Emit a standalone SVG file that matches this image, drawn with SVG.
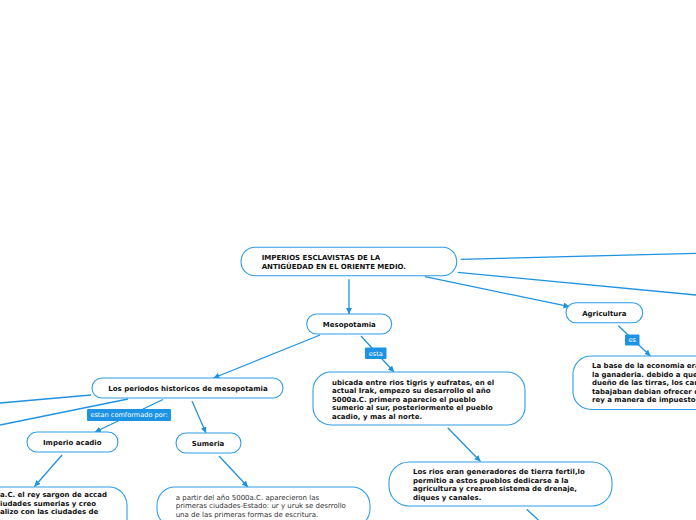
<svg xmlns="http://www.w3.org/2000/svg" width="696" height="520" viewBox="0 0 696 520">
<style>
.node{fill:#ffffff;stroke:#2f9de6;stroke-width:1.1}
.edge{stroke:#1f93e0;stroke-width:1.3;fill:none}
.t{font-family:"DejaVu Sans",Verdana,sans-serif;font-size:7px;font-weight:bold;fill:#111111}
.tc{text-anchor:middle}
.tn{font-family:"DejaVu Sans",Verdana,sans-serif;font-size:7px;fill:#333333}
.lb{fill:#1d93e3}
.lt{font-family:"DejaVu Sans",Verdana,sans-serif;font-size:6.6px;fill:#ffffff;text-anchor:middle}
</style>
<defs>
<marker id="ah" viewBox="0 0 10 10" refX="10" refY="5" markerWidth="6" markerHeight="6" markerUnits="userSpaceOnUse" orient="auto">
<path d="M0,0 L10,5 L0,10 z" fill="#1f93e0"/>
</marker>
</defs>
<rect width="696" height="520" fill="#ffffff"/>
<g id="connectors">
<line class="edge" x1="460.7" y1="259.3" x2="696" y2="253.3"/>
<line class="edge" x1="457.7" y1="272.3" x2="696" y2="295"/>
<line class="edge" x1="425" y1="276.7" x2="569.5" y2="306.7" marker-end="url(#ah)"/>
<line class="edge" x1="349" y1="279.3" x2="349" y2="314" marker-end="url(#ah)"/>
<line class="edge" x1="320" y1="335" x2="213.5" y2="378" marker-end="url(#ah)"/>
<line class="edge" x1="361" y1="336" x2="394" y2="372" marker-end="url(#ah)"/>
<line class="edge" x1="618.3" y1="325.7" x2="650.5" y2="356" marker-end="url(#ah)"/>
<line class="edge" x1="447.7" y1="427.7" x2="480.5" y2="461.5" marker-end="url(#ah)"/>
<line class="edge" x1="526.7" y1="509.3" x2="538.3" y2="520"/>
<line class="edge" x1="91" y1="395" x2="0" y2="403"/>
<line class="edge" x1="128" y1="399" x2="0" y2="425"/>
<line class="edge" x1="163" y1="399.5" x2="95" y2="432" marker-end="url(#ah)"/>
<line class="edge" x1="192" y1="401" x2="206" y2="433" marker-end="url(#ah)"/>
<line class="edge" x1="62" y1="455" x2="34.5" y2="486.5" marker-end="url(#ah)"/>
<line class="edge" x1="219" y1="456" x2="248" y2="487" marker-end="url(#ah)"/>
<rect class="lb" x="365" y="347.5" width="21.5" height="11.5" rx="1"/>
<text class="lt" x="375.8" y="355.6">esta</text>
<rect class="lb" x="625" y="334.5" width="14.5" height="11" rx="1"/>
<text class="lt" x="632.2" y="342.3">es</text>
<rect class="lb" x="87" y="409" width="84" height="12" rx="1"/>
<text class="lt" x="129" y="417.4">estan comformado por:</text>
</g>
<g id="root">
<rect class="node" x="241" y="247.3" width="215.7" height="28.4" rx="14"/>
<text class="t" x="261.7" y="259.8">IMPERIOS ESCLAVISTAS DE LA</text>
<text class="t" x="261.7" y="269.2">ANTIGÜEDAD EN EL ORIENTE MEDIO.</text>
</g>
<g id="mesopotamia">
<rect class="node" x="306.7" y="314" width="85" height="20" rx="10"/>
<text class="t tc" x="349.3" y="327.2">Mesopotamia</text>
</g>
<g id="agricultura">
<rect class="node" x="566" y="302.7" width="76.7" height="20" rx="10"/>
<text class="t tc" x="604.3" y="315.8">Agricultura</text>
</g>
<g id="agricultura-desc">
<rect class="node" x="573" y="356" width="140" height="53.5" rx="18"/>
<text class="t" x="592" y="368">La base de la economia era</text>
<text class="t" x="592" y="376.5">la ganaderia. debido a que</text>
<text class="t" x="592" y="385">dueño de las tirras, los cam</text>
<text class="t" x="592" y="393.5">tabajaban debian ofrecer d</text>
<text class="t" x="592" y="402">rey a manera de impuesto</text>
</g>
<g id="ubicada">
<rect class="node" x="313" y="372" width="212" height="53" rx="18"/>
<text class="t" x="332" y="384.5">ubicada entre rios tigris y eufrates, en el</text>
<text class="t" x="332" y="393">actual Irak, empezo su desarrollo el año</text>
<text class="t" x="332" y="401.5">5000a.C. primero aparecio el pueblo</text>
<text class="t" x="332" y="410">sumerio al sur, posteriormente el pueblo</text>
<text class="t" x="332" y="418.5">acadio, y mas al norte.</text>
</g>
<g id="rios">
<rect class="node" x="389" y="462" width="223" height="44" rx="20"/>
<text class="t" x="413" y="474">Los rios eran generadores de tierra fertil,lo</text>
<text class="t" x="413" y="482.5">permitio a estos pueblos dedicarse a la</text>
<text class="t" x="413" y="491">agricultura y crearon sistema de drenaje,</text>
<text class="t" x="413" y="499.5">diques y canales.</text>
</g>
<g id="periodos">
<rect class="node" x="92" y="378" width="191" height="20" rx="10"/>
<text class="t tc" x="188" y="391">Los periodos historicos de mesopotamia</text>
</g>
<g id="imperio-acadio">
<rect class="node" x="27" y="432" width="91" height="20" rx="10"/>
<text class="t tc" x="72.3" y="444.8">Imperio acadio</text>
</g>
<g id="sumeria">
<rect class="node" x="176" y="433" width="65" height="20" rx="10"/>
<text class="t tc" x="208" y="445.8">Sumeria</text>
</g>
<g id="acadio-desc">
<rect class="node" x="-100" y="487" width="227" height="50" rx="18"/>
<text class="t" x="0" y="497">a.C. el rey sargon de accad</text>
<text class="t" x="0" y="505.5">iudades sumerias y creo</text>
<text class="t" x="0" y="514">alizo con las ciudades de</text>
</g>
<g id="sumeria-desc">
<rect class="node" x="157" y="487" width="213" height="40" rx="18"/>
<text class="tn" x="175.7" y="499.5">a partir del año 5000a.C. aparecieron las</text>
<text class="tn" x="175.7" y="508">primeras ciudades-Estado: ur y uruk se desrrollo</text>
<text class="tn" x="175.7" y="516.5">una de las primeras formas de escritura.</text>
</g>
</svg>
